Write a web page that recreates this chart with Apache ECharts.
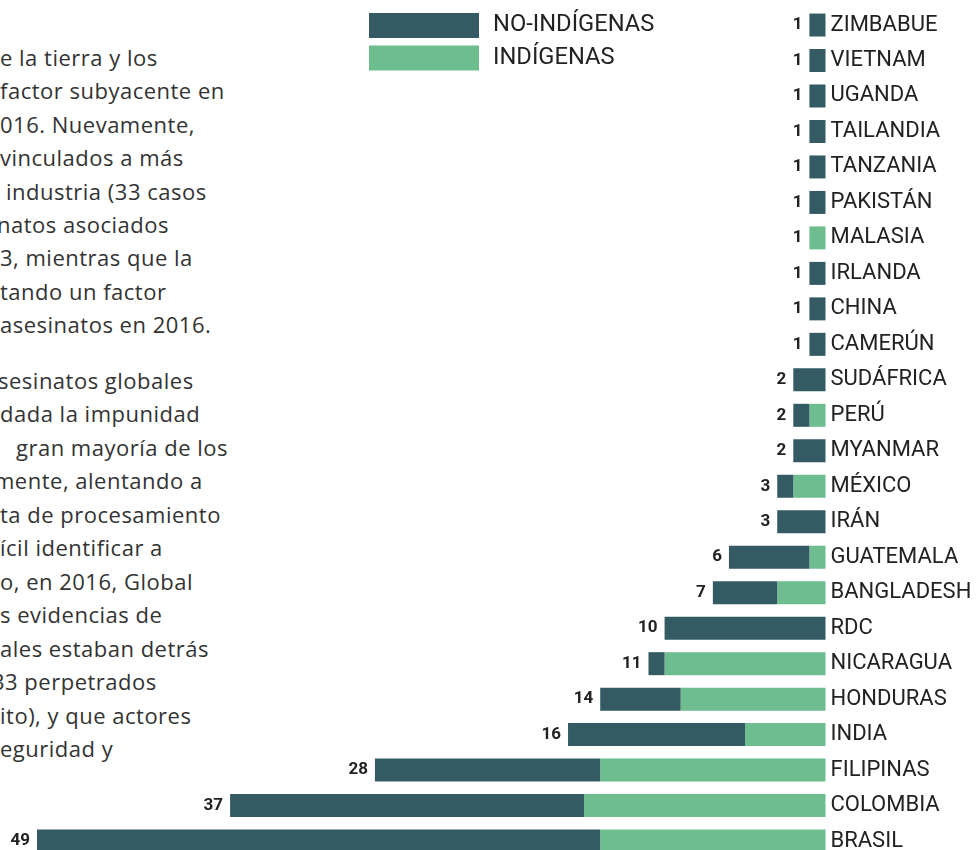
<!DOCTYPE html>
<html>
<head>
<meta charset="utf-8">
<script src="https://cdn.jsdelivr.net/npm/echarts@6/dist/echarts.min.js"></script>
<style>
html,body{margin:0;padding:0;background:#fff;overflow:hidden;}
#wrap{position:relative;width:980px;height:850px;overflow:hidden;}
#c{position:absolute;left:0;top:0;width:980px;height:850px;}
.ln{position:absolute;white-space:nowrap;font-family:'Open Sans';font-size:22px;letter-spacing:0.5px;color:#333;line-height:24px;}
</style>
</head>
<body>
<div id="wrap"><div id="txt"></div><div id="c"></div></div>
<script>
const categories = ['ZIMBABUE','VIETNAM','UGANDA','TAILANDIA','TANZANIA','PAKISTÁN','MALASIA','IRLANDA','CHINA','CAMERÚN','SUDÁFRICA','PERÚ','MYANMAR','MÉXICO','IRÁN','GUATEMALA','BANGLADESH','RDC','NICARAGUA','HONDURAS','INDIA','FILIPINAS','COLOMBIA','BRASIL'];
const indigenas   = [0,0,0,0,0,0,1,0,0,0,0,1,0,2,0,1,3,0,10,9,5,14,15,14];
const noIndigenas = [1,1,1,1,1,1,0,1,1,1,2,1,2,1,3,5,4,10,1,5,11,14,22,35];
const seriesNames = ['NO-INDÍGENAS','INDÍGENAS'];

const paragraph1 = [
  ['e la tierra y los',0],
  ['factor subyacente en',0],
  ['016. Nuevamente,',0],
  ['vinculados a más',0],
  ['industria (33 casos',6],
  ['natos asociados',-3],
  ['3, mientras que la',0],
  ['tando un factor',0],
  ['asesinatos en 2016.',0]
];
const paragraph2 = [
  ['sesinatos globales',-2],
  ['dada la impunidad',0],
  ['gran mayoría de los',16],
  ['mente, alentando a',-6],
  ['ta de procesamiento',0],
  ['ícil identificar a',0],
  ['o, en 2016, Global',0],
  ['s evidencias de',0],
  ['ales estaban detrás',0],
  ['33 perpetrados',-8],
  ['ito), y que actores',0],
  ['eguridad y',0]
];

const totals = categories.map((c,i)=>indigenas[i]+noIndigenas[i]);
const DARK = '#345a63', GREEN = '#6dbd8f';

const txt = document.getElementById('txt');
function addLines(lines, y0, step){
  lines.forEach((l,i)=>{
    const d = document.createElement('div');
    d.className = 'ln';
    d.textContent = l[0];
    d.style.left = l[1] + 'px';
    d.style.top = (y0 + i*step - 12) + 'px';
    txt.appendChild(d);
  });
}
addLines(paragraph1, 57, 33.4);
addLines(paragraph2, 380, 33.45);

const labelStyle = {show:true, position:'left', distance:7, color:'#222', fontFamily:'Roboto', fontWeight:'bold', fontSize:17};

const chart = echarts.init(document.getElementById('c'));
chart.setOption({
  animation:false,
  legend:{
    data: seriesNames, orient:'vertical', left:369, top:10, padding:0,
    itemWidth:110, itemHeight:25, itemGap:1.5, icon:'rect',
    textStyle:{fontFamily:'Roboto', fontSize:23.7, color:'#222', lineHeight:25, padding:[6,0,0,9]},
    selectedMode:false
  },
  grid:{left:37, right:154.5, top:7.3, height:851.5, containLabel:false, outerBoundsMode:'none'},
  xAxis:{type:'value', min:0, max:49, inverse:true, show:false},
  yAxis:{type:'category', data:categories, inverse:true, position:'right',
    axisLine:{show:false}, axisTick:{show:false},
    axisLabel:{fontFamily:'Roboto', fontSize:22, color:'#222', margin:5}},
  series:[
    {name:'INDÍGENAS', type:'bar', stack:'t', data:indigenas, barWidth:23,
      itemStyle:{color:GREEN},
      label:Object.assign({}, labelStyle, {formatter:p=> noIndigenas[p.dataIndex]===0 ? String(totals[p.dataIndex]) : ''})},
    {name:'NO-INDÍGENAS', type:'bar', stack:'t', data:noIndigenas, barWidth:23,
      itemStyle:{color:DARK},
      label:Object.assign({}, labelStyle, {formatter:p=> noIndigenas[p.dataIndex]>0 ? String(totals[p.dataIndex]) : ''})}
  ]
});
</script>
</body>
</html>
